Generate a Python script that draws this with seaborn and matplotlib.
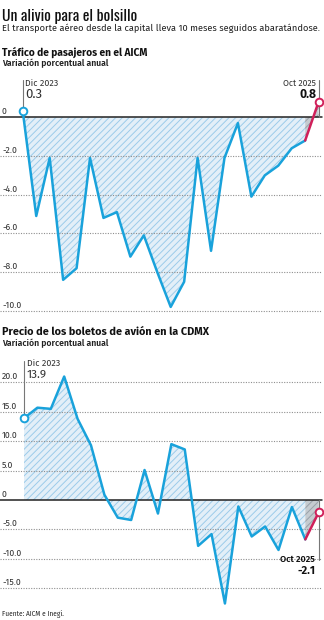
import numpy as np
import pandas as pd
import seaborn as sns
import matplotlib
matplotlib.use("Agg")
import matplotlib.pyplot as plt
from matplotlib import font_manager
from matplotlib.transforms import blended_transform_factory

# ---------------- data ----------------
meses = ["Dic 2023", "Ene 2024", "Feb 2024", "Mar 2024", "Abr 2024", "May 2024",
         "Jun 2024", "Jul 2024", "Ago 2024", "Sep 2024", "Oct 2024", "Nov 2024",
         "Dic 2024", "Ene 2025", "Feb 2025", "Mar 2025", "Abr 2025", "May 2025",
         "Jun 2025", "Jul 2025", "Ago 2025", "Sep 2025", "Oct 2025"]
pasajeros = [0.3, -5.1, -2.1, -8.4, -7.8, -2.1, -5.2, -4.9, -7.2, -6.1, -8.0, -9.8,
             -8.5, -2.1, -6.9, -2.1, -0.3, -4.1, -3.0, -2.5, -1.6, -1.2, 0.8]
precios = [13.9, 15.7, 15.5, 21.0, 13.8, 9.3, 0.9, -3.0, -3.4, 5.1, -2.3, 9.5,
           8.6, -7.8, -5.8, -17.6, -1.1, -6.2, -4.5, -8.5, -1.2, -6.7, -2.1]
ticks_pasajeros = [0, -2, -4, -6, -8, -10]
ticks_precios = [20, 15, 10, 5, 0, -5, -10, -15]

titulo = "Un alivio para el bolsillo"
subtitulo = "El transporte aéreo desde la capital lleva 10 meses seguidos abaratándose."
titulo1 = "Tráfico de pasajeros en el AICM"
titulo2 = "Precio de los boletos de avión en la CDMX"
unidad = "Variación porcentual anual"
fuente = "Fuente: AICM e Inegi."

# ---------------- style ----------------
sns.set_style("white")
names = {f.name for f in font_manager.fontManager.ttflist}


def pick(cands, default="DejaVu Sans"):
    for c in cands:
        if c in names:
            return c
    return default


BODY = pick(["Fira Sans", "Open Sans"])
NARROW = pick(["Oswald", "Pathway Gothic One", "Roboto Condensed"])
plt.rcParams["font.family"] = [BODY, "DejaVu Sans"]
plt.rcParams["hatch.linewidth"] = 0.7

BLUE = "#19a2db"
RED = "#d0205a"
FILL = "#e3eff8"
HATCH = "#9ccbea"
GFILL = "#c5cbd0"
GHATCH = "#98a1a9"
GRID = "#8f8f8f"

W, H = 324, 620
fig = plt.figure(figsize=(W / 100, H / 100), dpi=100)


def px_axes(top, bottom):
    return fig.add_axes([0, 1 - bottom / H, 1, (bottom - top) / H])


def ytop(px):
    return 1 - px / H


def draw_panel(ax, values, ticks, zero_px, ppu, first_px, last_px, top_px, bot_px):
    n = len(values)
    step = (last_px - first_px) / (n - 1)
    ax.set_xlim(-first_px / step, (W - first_px) / step)
    ax.set_ylim(-(bot_px - zero_px) / ppu, (zero_px - top_px) / ppu)
    x = np.arange(n)
    y = np.array(values)
    ax.fill_between(x[: n - 1], y[: n - 1], 0, interpolate=True, facecolor=FILL,
                    edgecolor=HATCH, hatch="/////", linewidth=0, zorder=1)
    ax.fill_between(x[n - 2:], y[n - 2:], 0, interpolate=True, facecolor=GFILL,
                    edgecolor=GHATCH, hatch="/////", linewidth=0, zorder=1)
    bt = blended_transform_factory(ax.transAxes, ax.transData)
    for t in ticks:
        if t == 0:
            ax.axhline(0, xmin=0, xmax=322 / W, color="#222222", lw=1.1, zorder=3)
        else:
            ax.axhline(t, xmin=0, xmax=322 / W, color=GRID, lw=0.8,
                       ls=(0, (1, 1.3)), zorder=2)
        lab = "0" if t == 0 else f"{t:.1f}"
        ax.annotate(lab, xy=(0, t), xycoords=bt, xytext=(2, 3),
                    textcoords="offset pixels", va="baseline", ha="left",
                    fontsize=6.3, color="#333333")
    df = pd.DataFrame({"i": x, "v": y})
    sns.lineplot(data=df.iloc[: n - 1], x="i", y="v", ax=ax, color=BLUE, lw=1.8,
                 zorder=5)
    sns.lineplot(data=df.iloc[n - 2:], x="i", y="v", ax=ax, color=RED, lw=1.8,
                 zorder=5)
    ax.plot([0], [y[0]], "o", ms=5.5, mfc="white", mec=BLUE, mew=1.4, zorder=7)
    ax.plot([n - 1], [y[-1]], "o", ms=5.5, mfc="white", mec=RED, mew=1.4, zorder=7)
    ax.set_axis_off()
    return step


ax1 = px_axes(78, 322)
draw_panel(ax1, pasajeros, ticks_pasajeros, 117.3, 19.35, 22.8, 318.6, 78, 322)
ax1.plot([0, 0], [pasajeros[0], (117.3 - 80) / 19.35], color="#777777", lw=0.8, zorder=4)
ax1.plot([len(pasajeros) - 1] * 2, [0, (117.3 - 80) / 19.35], color="#777777", lw=0.8,
         zorder=4)

ax2 = px_axes(355, 610)
draw_panel(ax2, precios, ticks_precios, 500, 5.88, 24, 318.7, 355, 610)
ax2.plot([0, 0], [precios[0], (500 - 361) / 5.88], color="#777777", lw=0.8, zorder=4)
ax2.plot([len(precios) - 1] * 2, [0, -(560 - 500) / 5.88], color="#777777", lw=0.8,
         zorder=4)

texts = []


def T(s, x, y, w=None, ha="left", **kw):
    t = fig.text(x / W, ytop(y), s, ha=ha, va="baseline", **kw)
    texts.append((t, w))
    return t


T(titulo, 2, 21.5, 135, family=[NARROW, "DejaVu Sans"], fontweight="normal",
  fontsize=14, color="#111111")
T(subtitulo, 2, 31, 316, fontsize=6.5, color="#222222")
T(titulo1, 2, 55.5, 146, fontsize=8, fontweight="bold", color="#111111")
T(unidad, 2, 66, 107, fontsize=6, fontweight="semibold", color="#222222")
T(titulo2, 2, 335, 207, fontsize=8, fontweight="bold", color="#111111")
T(unidad, 2, 346, 107, fontsize=6, fontweight="semibold", color="#222222")
T(fuente, 2, 616.5, 62, fontsize=5, color="#222222")

T(meses[0], 25, 85.5, 33, fontsize=6, color="#333333")
T(f"{pasajeros[0]:.1f}", 25, 97.5, 17, fontsize=8, color="#333333")
T(meses[-1], 316, 85.5, 33, ha="right", fontsize=6, color="#333333")
T(f"{pasajeros[-1]:.1f}", 316, 97.5, 17, ha="right", fontsize=8, fontweight="bold",
  color="#111111")

T(meses[0], 27, 365.5, 33, fontsize=6, color="#333333")
T(f"{precios[0]:.1f}", 27, 377.5, 20, fontsize=8, color="#333333")
T(meses[-1], 315, 562.5, 35, ha="right", fontsize=6, fontweight="semibold",
  color="#111111")
T(f"{precios[-1]:.1f}", 315, 573.5, 18, ha="right", fontsize=8, fontweight="bold",
  color="#111111")

fig.canvas.draw()
r = fig.canvas.get_renderer()
for t, w in texts:
    if w:
        bb = t.get_window_extent(renderer=r)
        if bb.width > 0:
            t.set_fontsize(t.get_fontsize() * w / bb.width)

fig.savefig("out.png", dpi=100)
